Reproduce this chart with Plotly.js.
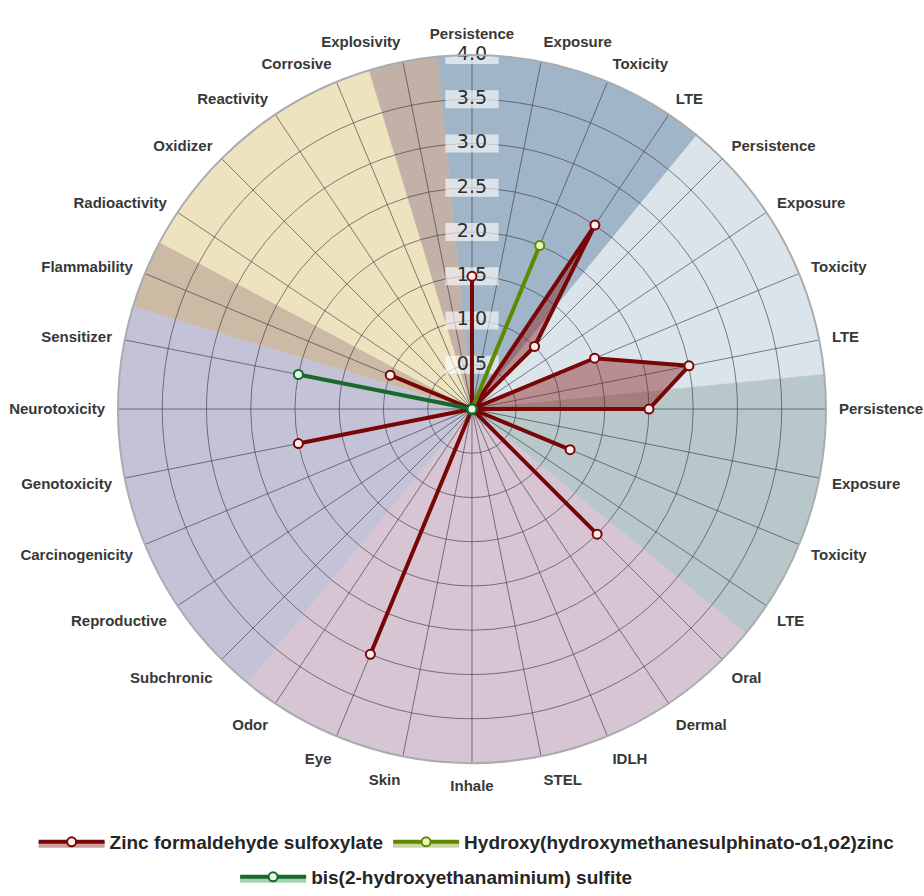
<!DOCTYPE html>
<html><head><meta charset="utf-8">
<script src="https://cdn.plot.ly/plotly-3.0.1.min.js"></script>
<style>html,body{margin:0;padding:0;background:#fff;} #chart{width:924px;height:896px;}</style>
</head><body><div id="chart"></div>
<script>
// ---- data ----
const categories = ['Persistence','Exposure','Toxicity','LTE','Persistence','Exposure','Toxicity','LTE',
  'Persistence','Exposure','Toxicity','LTE','Oral','Dermal','IDLH','STEL','Inhale','Skin','Eye','Odor',
  'Subchronic','Reproductive','Carcinogenicity','Genotoxicity','Neurotoxicity','Sensitizer','Flammability',
  'Radioactivity','Oxidizer','Reactivity','Corrosive','Explosivity'];
const seriesNames = ['Zinc formaldehyde sulfoxylate','Hydroxy(hydroxymethanesulphinato-o1,o2)zinc','bis(2-hydroxyethanaminium) sulfite'];
const zincValues    = [1.5,0,0,2.5,1.0,0,1.5,2.5,2.0,0,1.2,0,2.0,0,0,0,0,0,3.0,0,0,0,0,2.0,0,0,1.0,0,0,0,0,0];
const hydroxyValues = [0,0,2.0,0,0,0,0,0,0,0,0,0,0,0,0,0,0,0,0,0,0,0,0,0,0,0,0,0,0,0,0,0];
const bisValues     = [0,0,0,0,0,0,0,0,0,0,0,0,0,0,0,0,0,0,0,0,0,0,0,0,0,2.0,0,0,0,0,0,0];
const radialTicks = [0.5,1.0,1.5,2.0,2.5,3.0,3.5,4.0];
const radialTickLabels = ['0.5','1.0','1.5','2.0','2.5','3.0','3.5','4.0'];
const radialMax = 4;
// group of each category (for background sector colour)
const categoryGroups = [0,0,0,0,1,1,1,1,2,2,2,2,3,3,3,3,3,3,3,3,4,4,4,4,4,4,5,6,6,6,6,7];

// ---- styles ----
const groupColors = ['#a0b5c7','#dae4ea','#b8c8ca','#d7c5d3','#c4c2d7','#cdbaa4','#ede4bf','#c3b0a6'];
const FONT = 'Liberation Sans, Arial, sans-serif';
const gridColor = 'rgba(50,50,58,0.6)';

const n = categories.length;
const step = 360 / n;
const thetas = categories.map((c, i) => i * step);
const sectorColors = categoryGroups.map(g => groupColors[g]);

const angularCommon = {
  type: 'linear', thetaunit: 'degrees', rotation: 90, direction: 'clockwise',
  tickmode: 'array', tickvals: thetas, ticktext: categories
};
const domain = {x: [0.1277, 0.8939], y: [0.1484, 0.9386]};

const traces = [
  { type: 'barpolar', subplot: 'polar', r: categories.map(() => radialMax), theta: thetas, width: step,
    marker: {color: sectorColors, line: {color: sectorColors, width: 0.6}},
    hoverinfo: 'skip', showlegend: false },
  { type: 'scatterpolar', subplot: 'polar2', r: radialTicks, theta: radialTicks.map(() => 0),
    mode: 'markers+text', text: radialTickLabels, textposition: 'middle center',
    textfont: {family: 'DejaVu Sans, sans-serif', size: 19, color: '#2e2e2e'},
    marker: {symbol: 'line-ew', size: 38, color: 'rgba(255,255,255,0.62)', line: {width: 18, color: 'rgba(255,255,255,0.62)'}},
    hoverinfo: 'skip', showlegend: false },
  { type: 'scatterpolar', subplot: 'polar2', name: seriesNames[0], legend: 'legend', r: zincValues, theta: thetas,
    mode: 'lines+markers', fill: 'toself', fillcolor: 'rgba(135,25,25,0.42)',
    line: {color: '#780606', width: 4},
    marker: {size: 9, color: '#fbeeee', line: {color: '#780606', width: 2}} },
  { type: 'scatterpolar', subplot: 'polar2', name: seriesNames[1], legend: 'legend', r: hydroxyValues, theta: thetas,
    mode: 'lines+markers', fill: 'toself', fillcolor: 'rgba(170,185,100,0.6)',
    line: {color: '#5f8a00', width: 4},
    marker: {size: 9, color: '#eef5c0', line: {color: '#5f8a00', width: 2}} },
  { type: 'scatterpolar', subplot: 'polar2', name: seriesNames[2], legend: 'legend2', r: bisValues, theta: thetas,
    mode: 'lines+markers', fill: 'toself', fillcolor: 'rgba(100,180,130,0.6)',
    line: {color: '#17692f', width: 4},
    marker: {size: 9, color: '#eaf6ee', line: {color: '#17692f', width: 2}} }
];

const legendFont = {family: FONT, size: 19, color: '#262626', weight: 'bold'};
const layout = {
  width: 924, height: 896,
  margin: {l: 0, r: 0, t: 0, b: 0},
  paper_bgcolor: '#ffffff',
  font: {family: FONT, color: '#333'},
  showlegend: true,
  legend: {orientation: 'h', x: 0.505, xanchor: 'center', y: 0.0603, yanchor: 'middle',
    font: legendFont, itemwidth: 66},
  legend2: {orientation: 'h', x: 0.472, xanchor: 'center', y: 0.021, yanchor: 'middle',
    font: legendFont, itemwidth: 66},
  polar: {
    domain: domain, bgcolor: '#ffffff', bargap: 0, hole: 0,
    angularaxis: Object.assign({}, angularCommon, {showgrid: false, showline: false, showticklabels: false, ticks: ''}),
    radialaxis: {range: [0, radialMax], showgrid: false, showline: false, showticklabels: false, ticks: ''}
  },
  polar2: {
    domain: domain, bgcolor: 'rgba(0,0,0,0)', hole: 0,
    angularaxis: Object.assign({}, angularCommon, {showgrid: true, gridcolor: gridColor, gridwidth: 1,
      showline: true, linecolor: '#a9adb0', linewidth: 2,
      ticks: 'outside', ticklen: 9, tickcolor: 'rgba(0,0,0,0)',
      tickfont: {family: FONT, size: 15, color: '#383838', weight: 'bold'}}),
    radialaxis: {range: [0, radialMax], tickmode: 'array', tickvals: radialTicks, showgrid: true,
      gridcolor: gridColor, gridwidth: 1, showline: false, showticklabels: false, ticks: ''}
  }
};

Plotly.newPlot('chart', traces, layout, {displayModeBar: false, staticPlot: true});
</script></body></html>
